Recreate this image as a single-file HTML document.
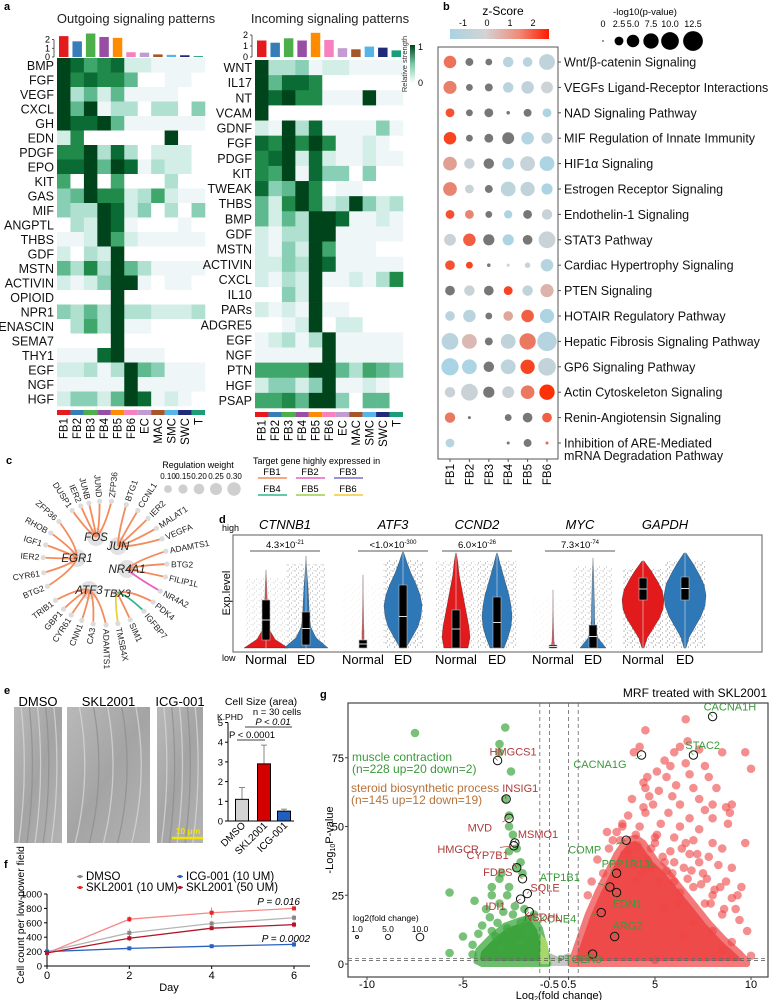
<!DOCTYPE html>
<html><head><meta charset="utf-8">
<style>
html,body{margin:0;padding:0;background:#fff;}
svg{display:block;font-family:"Liberation Sans",Arial,sans-serif;}
</style></head>
<body>
<svg id="fig" width="769" height="1000" viewBox="0 0 769 1000" xmlns="http://www.w3.org/2000/svg">
<defs>
<linearGradient id="relgrad" x1="0" y1="1" x2="0" y2="0"><stop offset="0" stop-color="#ffffff"/><stop offset="0.5" stop-color="#7cc9a8"/><stop offset="1" stop-color="#00441b"/></linearGradient>
<linearGradient id="zgrad" x1="0" y1="0" x2="1" y2="0"><stop offset="0" stop-color="#a9d3e3"/><stop offset="0.36" stop-color="#d3d3d3"/><stop offset="0.7" stop-color="#f08a78"/><stop offset="1" stop-color="#ff1a00"/></linearGradient>
<pattern id="dots" width="7" height="6" patternUnits="userSpaceOnUse"><circle cx="1" cy="1" r="0.55" fill="#444"/><circle cx="4.5" cy="3" r="0.5" fill="#555"/><circle cx="2.5" cy="5" r="0.45" fill="#333"/><circle cx="6" cy="0.5" r="0.4" fill="#666"/></pattern>
<linearGradient id="photo" x1="0" y1="0" x2="1" y2="1"><stop offset="0" stop-color="#b9b9b9"/><stop offset="0.5" stop-color="#a4a4a4"/><stop offset="1" stop-color="#b3b3b3"/></linearGradient>
</defs>
</svg>
<script>
// ---------- DATA ----------
const cellTypes=['FB1','FB2','FB3','FB4','FB5','FB6','EC','MAC','SMC','SWC','T'];
const cellColors=['#e41a1c','#377eb8','#4daf4a','#984ea3','#ff8c00','#f781bf','#c39bd3','#a65628','#56b4e9','#1f2a7a','#1b9e77'];
const outRows=['BMP','FGF','VEGF','CXCL','GH','EDN','PDGF','EPO','KIT','GAS','MIF','ANGPTL','THBS','GDF','MSTN','ACTIVIN','OPIOID','NPR1','TENASCIN','SEMA7','THY1','EGF','NGF','HGF'];
const outVals=['98678221111','97877500110','93525111100','95913303304','98895111111','27000000900','77938302220','88959813220','60906000300','45977236211','43398240304','03298100010','11296211111','20329000000','53739531111','21249910110','00009000000','43539332223','03639110000','00009000000','11189111000','22313954111','11111911111','24425981210'];
const outBars=[2.4,1.8,2.7,2.3,2.2,0.55,0.5,0.3,0.25,0.2,0.1];
const inRows=['WNT','IL17','NT','VCAM','GDNF','FGF','PDGF','KIT','TWEAK','THBS','BMP','GDF','MSTN','ACTIVIN','CXCL','IL10','PARs','ADGRE5','EGF','NGF','PTN','HGF','PSAP'];
const inVals=['93341221111','95887000000','98977111911','90000000000','21938111141','87979711210','78928211211','76918440400','84597011000','52797239423','52539981121','21339911111','21429611100','22439811111','21329112137','00429000000','21219110000','00129022000','12313911111','11111911111','66669953654','24424911210','66759940550'];
const inBars=[1.5,1.3,1.7,1.5,2.2,1.55,0.8,0.7,0.95,0.85,0.6];

const pathways=['Wnt/β-catenin Signaling','VEGFs Ligand-Receptor Interactions','NAD Signaling Pathway','MIF Regulation of Innate Immunity','HIF1α Signaling','Estrogen Receptor Signaling','Endothelin-1 Signaling','STAT3 Pathway','Cardiac Hypertrophy Signaling','PTEN Signaling','HOTAIR Regulatory Pathway','Hepatic Fibrosis Signaling Pathway','GP6 Signaling Pathway','Actin Cytoskeleton Signaling','Renin-Angiotensin Signaling','Inhibition of ARE-Mediated'];
const dotCols=['FB1','FB2','FB3','FB4','FB5','FB6'];
const zScores=[[1.5,null,null,-0.8,-0.8,-0.6],[1.3,null,null,-0.8,-0.6,-0.2],[2,null,null,null,null,-1.2],[2.2,null,null,null,-1,-0.6],[0.8,-0.3,null,-0.9,-0.4,-1.2],[1.2,-0.3,null,-0.7,-0.6,-1.2],[2,1.2,null,-1.2,null,-0.3],[-0.3,1.8,null,-1.2,null,-0.3],[2,2.2,null,-0.2,-0.3,-0.9],[null,-0.3,null,2.2,-0.6,0.5],[-0.8,-0.8,null,0.7,1.8,-1.2],[-0.8,0.4,null,-0.6,1.4,-0.9],[-1.3,-1.2,null,-0.7,2.2,-0.5],[-0.3,-0.3,null,-0.3,1.4,2.5],[1.4,null,null,null,null,1.8],[-0.8,null,null,null,null,1.6]];
const logP=[[5,2,1.5,3.5,3,8],[5.5,1.5,2,3.5,5,4.5],[2.5,1.5,2.5,0.4,2,2.5],[5,1.5,2.5,4.5,5,4],[6,3.5,3.5,4.5,7,7],[6,2.5,2,7,6.5,4],[2.5,2.5,1.5,2.2,2.5,3.5],[4.5,5,4,4,3,9],[3,1.5,0.4,0.3,1,5],[3,3.5,3,2.5,3.5,5.5],[3,5,1.5,3,5,6.5],[9,7,2,7,8.5,12],[9.5,7,3.5,7,6.5,10],[3.5,9,4,4.5,6,7.5],[3.5,0.3,0,1.5,3,3],[2.5,0,0,0.3,2,0.3]];
const pLegend=[0,2.5,5,7.5,10,12.5];

const weightLegend=[0.10,0.15,0.20,0.25,0.30];

const fDays=[0,2,4,6];
const fDMSO=[200,460,590,670];
const fDMSOerr=[20,60,40,40];
const fSKL10=[180,650,740,800];
const fSKL10err=[15,40,70,30];
const fICG=[200,245,275,300];
const fICGerr=[15,25,20,40];
const fSKL50=[180,385,525,575];
const fSKL50err=[15,40,25,40];
const fYTicks=[0,200,400,600,800,1000];

const eGroups=['DMSO','SKL2001','ICG-001'];
const eVals=[1.1,2.9,0.5];
const eErr=[0.6,0.95,0.1];
const eColors=['#d3d3d3','#d40000','#1f5fbf'];

const volRedFC=[4.5,6.6,3.9,4.2,6.7,6.3,7.3,6.0,5.5,8.5,9.7,10.0,5.8,6.6,7.6,5.1,4.6,4.4,5.6,6.8,7.8,4.5,5.2,6.1,7.0,8.2,4.7,5.9,7.3,8.0,3.8,4.9,6.3,7.6,8.7,9.0,3.6,4.5,5.7,6.8,8.0,8.9,3.3,4.2,5.3,6.3,7.3,8.8,3.0,4.0,5.0,6.0,7.0,8.0,8.5,9.7,3.2,4.8,5.8,6.8,7.8,8.3,9.0,5.5,6.5,7.5,8.7,6.0,7.0,8.0,9.5,7.6,8.5,9.2,9.8,9.0,8.0,2.6,2.0,2.3,1.7,1.5,2.5,3.7,4.5,5.2,4.0,6.2,5.5,7.0,6.5,8.5,10,5,3.4,4.1,5.0,6.4,7.2,3.9,4.6,5.4,6.0,6.9,7.7,8.4,9.3,4.3,5.6,6.7,7.4,8.1,9.0,3.1,3.6,4.8,5.9,6.3,7.9,9.4,2.8,3.3,4.4,5.1,6.6,7.3,8.6];
const volRedP=[85,89,77,79,81,79,78,77,74,77,77,71,72,73,72,70,68,66,68,69,68,64,63,65,64,64,61,61,60,58,60,58,58,56,57,58,54,55,55,53,53,55,51,50,51,50,49,51,48,47,46,46,45,44,42,44,45,42,41,40,39,36,35,37,35,33,30,30,28,25,28,22,18,20,12,8,12,42,38,33,30,25,48,38,35,30,30,22,20,15,10,5,3,1.5,40,43,44,42,40,36,38,39,37,34,31,28,25,33,34,31,29,27,24,35,41,35,33,26,22,16,45,50,57,47,44,37,20];
const volGreenFC=[-7.5,-2.8,-3.1,-3.1,-2.5,-2.8,-2.6,-2.6,-2.4,-2.6,-2.2,-2.0,-2.2,-1.9,-3.0,-2.6,-3.5,-3.1,-2.7,-3.1,-2.3,-3.5,-4.4,-5.7,-3.8,-4.0,-5.0,-3.5,-4.5,-5.7,-4.5,-3.3,-2.7,-2.0,-1.6,-1.3,-1.7,-3.0,-2.0,-3.6,-2.9,-2.4,-1.8,-4.2,-3.2];
const volGreenP=[84,86,80,77,70,60,54,50,47,41,42,37,35,33,33,28,28,31,25,22,21,25,23,26,20,14,10,12,7,4,3.5,10,13,15,12,18,16,6,8,17,19,18,20,11,15];
const redDensFC=[0.6,0.8,1.1,1.5,2.0,2.5,3.0,3.5,4.0,4.4,5.0,5.6,6.3,7.0,7.8,8.6,9.4,9.8,9.8];
const redDensP=[0,4,10,18,26,33,40,45,46,44,38,34,28,22,15,9,4,1,0];
const greenDensFC=[-0.55,-0.7,-1.0,-1.4,-2.0,-2.8,-3.5,-4.2,-4.3,-4.0];
const greenDensP=[0,5,13,17,16,14,10,5,1,0];
const labGenes=['CACNA1H','STAC2','CACNA1G','COMP','PPP1R13L','ATP1B1','EDN1','KCNE4','ARG2','PTGER3','HMGCS1','INSIG1','MVD','MSMO1','HMGCR','CYP7B1','FDPS','SQLE','IDI1','NSDHL'];
const labFC=[8.0,7.0,4.3,3.5,3.0,2.65,3.0,2.2,2.9,1.75,-3.2,-2.75,-2.6,-2.3,-2.35,-2.2,-1.9,-1.65,-2.0,-1.55];
const labP=[90,76,76,45,33,28,26,18.7,10,3.6,74,60,53,44,43,35,31,25.6,23.6,19];
const labDX=[-9,-8,-15,-25,-15,-30,-4,-25,-2,-35,-8,-4,-17,3,-35,-8,-10,3,-15,-5];
const labDY=[-9,-9,10,10,-9,-9,12,7,-10,6,-8,-10,10,-8,4,-12,-6,-5,8,6];
const labAnchor=['start','start','end','end','start','end','start','end','start','start','start','start','end','start','end','end','end','start','end','start'];
const volXTicks=[-10,-5,-0.5,0.5,5,10];
const volYTicks=[0,25,50,75];

// ---------- HELPERS ----------
const NS='http://www.w3.org/2000/svg';
const svg=document.getElementById('fig');
function mk(tag,attrs,parent){const e=document.createElementNS(NS,tag);for(const k in attrs)e.setAttribute(k,attrs[k]);(parent||svg).appendChild(e);return e;}
function tx(x,y,s,attrs,parent){const e=mk('text',Object.assign({x:x,y:y},attrs||{}),parent);e.textContent=s;return e;}
function grp(name){const g=mk('g',{});return g;}
const heatColors=['#ffffff','#eef6f8','#d3eee6','#b0e0d0','#88cfb5','#5fb98f','#3fa66c','#208a4a','#0b6b34','#00441b'];

// panel labels
[['a',4,10],['b',443,10],['c',6,464],['d',219,523],['e',4,694],['f',4,868],['g',320,698]].forEach(p=>{
  const t=tx(p[1],p[2],p[0],{'font-size':11,'font-weight':'bold'});
  
  
});

// ---------- PANEL A ----------
function heatmap(name,title,titleX,rows,vals,bars,x0,y0,x1,y1,barScale,ticks){
  const g=grp(name);
  const cw=(x1-x0)/cellTypes.length, rh=(y1-y0)/rows.length;
  const t=tx(titleX,23,title,{'font-size':13,'text-anchor':'middle',fill:'#222'},g);
  
  
  mk('line',{x1:x0-3,y1:57,x2:x0-3,y2:57-ticks[ticks.length-1]*barScale,stroke:'#333','stroke-width':0.8},g);
  ticks.forEach(v=>{const y=57-v*barScale;mk('line',{x1:x0-5,y1:y,x2:x0-3,y2:y,stroke:'#333','stroke-width':0.8},g);tx(x0-7,y+3,String(v),{'font-size':9,'text-anchor':'end'},g);});
  bars.forEach((v,i)=>{
    const b=mk('rect',{x:x0+i*cw+2,y:57-v*barScale,width:cw-4,height:v*barScale,fill:cellColors[i]},g);
    
    
  });
  rows.forEach((r,ri)=>{
    const l=tx(x0-3,y0+ri*rh+rh/2+4.5,r,{'font-size':12.5,'text-anchor':'end',fill:'#111'},g);
    
    
    for(let ci=0;ci<cellTypes.length;ci++){
      const v=+vals[ri][ci];
      const c=mk('rect',{x:x0+ci*cw,y:y0+ri*rh,width:cw+0.3,height:rh+0.3,fill:heatColors[v]},g);
      
      
    }
  });
  cellTypes.forEach((c,i)=>{
    mk('rect',{x:x0+i*cw,y:y1+4,width:cw,height:5,fill:cellColors[i]},g);
    const l=tx(0,0,c,{'font-size':11.5,'text-anchor':'end',transform:'translate('+(x0+i*cw+cw/2+4)+','+(y1+12)+') rotate(-90)'},g);
    
    
  });
}
heatmap('outgoing-heatmap','Outgoing signaling patterns',136,outRows,outVals,outBars,57,58,205,406,8.7,[0,1,2]);
heatmap('incoming-heatmap','Incoming signaling patterns',330,inRows,inVals,inBars,255,60,403,408,11,[0,1,2]);
(function(){
  const g=grp('relative-strength-legend');
  mk('rect',{x:410,y:45,width:5,height:38,fill:'url(#relgrad)'},g);
  tx(418,50,'1',{'font-size':9},g);tx(418,86,'0',{'font-size':9},g);
  tx(0,0,'Relative strength',{'font-size':7.5,'text-anchor':'middle',transform:'translate(407,64) rotate(-90)',fill:'#333'},g);
})();

// ---------- PANEL B ----------
(function(){
  const g=grp('pathway-dotplot');
  const colX=c=>450+c*19.4, rowY=r=>62+r*25.4;
  const rad=p=>p<=0?0:Math.max(0.7,2.8*Math.sqrt(p));
  function zcol(z){
    if(z===null)return '#777777';
    function mix(a,b,t){t=Math.max(0,Math.min(1,t));const pa=[1,3,5].map(i=>parseInt(a.substr(i,2),16)),pb=[1,3,5].map(i=>parseInt(b.substr(i,2),16));return 'rgb('+pa.map((v,i)=>Math.round(v+(pb[i]-v)*t)).join(',')+')';}
    return z<0?mix('#d3d3d3','#a6d4e6',-z/1.4):mix('#d3d3d3','#ff2a00',z/2.6);
  }
  tx(503,15,'z-Score',{'font-size':12,'text-anchor':'middle'},g);
  mk('rect',{x:450,y:29,width:99,height:10,fill:'url(#zgrad)'},g);
  [['-1',463],['0',487],['1',510],['2',533]].forEach(t=>tx(t[1],26,t[0],{'font-size':9,'text-anchor':'middle'},g));
  tx(645,15,'-log10(p-value)',{'font-size':9.5,'text-anchor':'middle'},g);
  const lx=[603,619,633,651,670,693];
  pLegend.forEach((p,i)=>{tx(lx[i],27,p===0?'0':p.toFixed(1),{'font-size':9,'text-anchor':'middle'},g);mk('circle',{cx:lx[i],cy:41,r:rad(p)||0.7,fill:'#000'},g);});
  mk('path',{d:'M438,47 L558,47 L558,459 L438,459 Z',fill:'none',stroke:'#555','stroke-width':1},g);
  pathways.forEach((p,r)=>{
    const y=rowY(r);
    mk('line',{x1:558,y1:y,x2:561,y2:y,stroke:'#555'},g);
    const l=tx(564,y+4.5,p,{'font-size':12.5,fill:'#111'},g);
    
    
    dotCols.forEach((c,ci)=>{
      const pv=logP[r][ci]; if(!pv)return;
      const d=mk('circle',{cx:colX(ci),cy:y,r:rad(pv),fill:zcol(zScores[r][ci])},g);
      
      
    });
  });
  tx(564,rowY(15)+17,'mRNA Degradation Pathway',{'font-size':12.5,fill:'#111'},g);
  dotCols.forEach((c,ci)=>{
    mk('line',{x1:colX(ci),y1:459,x2:colX(ci),y2:462,stroke:'#555'},g);
    tx(0,0,c,{'font-size':11.5,'text-anchor':'end',transform:'translate('+(colX(ci)+4)+',464) rotate(-90)'},g);
  });
})();

// ---------- PANEL C ----------
(function(){
  const g=grp('regulatory-network');
  const cx=105,cy=563,R=62;
  const hubs={FOS:[96,537],JUN:[118,546],EGR1:[77,558],NR4A1:[127,569],ATF3:[89,590],TBX3:[117,593]};
  const leaves=[['DUSP1',-122,'FOS'],['IER2',-113,'FOS'],['JUNB',-105,'FOS'],['JUND',-95,'FOS'],['ZFP36',-84,'FOS'],['BTG1',-70,'JUN'],['CCNL1',-58,'JUN'],['IER2',-46,'JUN'],['MALAT1',-34,'JUN'],['VEGFA',-23,'JUN'],['ADAMTS1',-11,'NR4A1'],['BTG2',1,'NR4A1'],['FILIP1L',13,'NR4A1'],['NR4A2',27,'NR4A1','#e85fc0'],['PDK4',39,'TBX3'],['IGFBP7',51,'TBX3','#2eb88a'],['SIM1',66,'TBX3'],['TMSB4X',78,'TBX3','#e8d23a'],['ADAMTS1',89,'ATF3'],['CA3',101,'ATF3'],['CNN1',112,'ATF3'],['CYR61',123,'ATF3'],['GBP1',132,'ATF3'],['TRIB1',143,'ATF3'],['BTG2',158,'EGR1'],['CYR61',171,'EGR1'],['IER2',-175,'EGR1'],['IGF1',-163,'EGR1'],['RHOB',-151,'EGR1'],['ZFP36',-138,'EGR1']];
  Object.keys(hubs).forEach(h=>mk('circle',{cx:hubs[h][0],cy:hubs[h][1],r:h==='TBX3'?4:9,fill:'#e2e2e2'},g));
  leaves.forEach(L=>{
    const a=L[1]*Math.PI/180, lx=cx+R*Math.cos(a), ly=cy+R*Math.sin(a), h=hubs[L[2]];
    const mx=(lx+h[0])/2+(cx-(lx+h[0])/2)*0.25, my=(ly+h[1])/2+(cy-(ly+h[1])/2)*0.25;
    const e=mk('path',{d:'M'+h[0]+','+h[1]+' Q'+mx+','+my+' '+lx+','+ly,fill:'none',stroke:L[3]||'#f58a5c','stroke-width':1.8},g);
    
    
    mk('circle',{cx:lx,cy:ly,r:2.6,fill:'#dcdcdc'},g);
    const deg=L[1], right=Math.abs(deg)<=90;
    const tx0=cx+(R+4)*Math.cos(a), ty0=cy+(R+4)*Math.sin(a);
    const rot=right?deg:deg+180;
    const t=tx(0,0,L[0],{'font-size':8.5,'text-anchor':right?'start':'end',fill:'#222',transform:'translate('+tx0.toFixed(1)+','+ty0.toFixed(1)+') rotate('+rot+') translate(0,3)'},g);
    
    
  });
  Object.keys(hubs).forEach(h=>tx(hubs[h][0],hubs[h][1]+4,h,{'font-size':h==='TBX3'?11:11.5,'font-style':'italic','text-anchor':'middle',fill:'#222'},g));
  tx(198,468,'Regulation weight',{'font-size':9,'text-anchor':'middle'},g);
  const wx=[168,183,199,216,234];
  weightLegend.forEach((w,i)=>{tx(wx[i],479,w.toFixed(2),{'font-size':8,'text-anchor':'middle'},g);mk('circle',{cx:wx[i],cy:489,r:2.5+w*14,fill:'#cfcfcf'},g);});
  tx(253,464,'Target gene highly expressed in',{'font-size':9},g);
  const lg=[['FB1','#f58a5c'],['FB2','#e85fc0'],['FB3','#7a6fd0'],['FB4','#2eb88a'],['FB5','#9ad04a'],['FB6','#f2c93a']];
  lg.forEach((l,i)=>{const x=258+(i%3)*38, y=i<3?475:492;tx(x+14,y,l[0],{'font-size':9.5,'text-anchor':'middle'},g);mk('line',{x1:x,y1:y+3,x2:x+29,y2:y+3,stroke:l[1],'stroke-width':1.5},g);});
})();

// ---------- PANEL D ----------
(function(){
  const g=grp('violin-panel');
  mk('rect',{x:233,y:535,width:529,height:117,fill:'none',stroke:'#777','stroke-width':1.2},g);
  tx(222,531,'high',{'font-size':9},g);tx(222,661,'low',{'font-size':9},g);
  tx(0,0,'Exp.level',{'font-size':11,'text-anchor':'middle',transform:'translate(230,593) rotate(-90)'},g);
  const genes=[['CTNNB1',285,'4.3×10','-21',266,306],['ATF3',393,'<1.0×10','-300',363,403],['CCND2',477,'6.0×10','-26',456,497],['MYC',580,'7.3×10','-74',553,593],['GAPDH',665,'',null,643,685]];
  const shapes={
    CTNNB1:[[570,[22,9,4,3,2,1.5,1,0.8,0.5,0.2],[600,640],0.4],[556,[22,10,5,3.5,3,2.5,2,1.2,0.6,0.2],[612,645],0.7]],
    ATF3:[[575,[1.5,1,1,0.7,0.6,0.5,0.4,0.3,0.3,0.2],[640,648],0.1],[552,[3,9,15,18,19,17,13,8,4,0.5],[585,648],0.9]],
    CCND2:[[553,[12,14,13,11,9,7,5,3,2,0.4],[610,648],0.6],[553,[7,11,14,15,14,12,9,6,3,0.4],[597,648],0.8]],
    MYC:[[590,[2,1,0.8,0.6,0.5,0.4,0.3,0.3,0.2,0.2],[645,648],0.1],[558,[13,5,2,1.5,1.5,1.2,1,0.8,0.5,0.2],[625,648],0.6]],
    GAPDH:[[561,[1,4,10,16,20,21,19,14,8,1],[578,600],0.9],[553,[1,4,10,16,20,21,19,14,8,1],[577,600],0.9]]
  };
  genes.forEach(G=>{
    tx(G[1],529,G[0],{'font-size':13,'font-style':'italic','text-anchor':'middle'},g);
    if(G[2]){const t=tx(G[1],548,G[2],{'font-size':9.5,'text-anchor':'middle'},g);const s=mk('tspan',{'font-size':6,dy:-4},t);s.textContent=G[3];mk('line',{x1:G[1]-35,y1:551,x2:G[1]+35,y2:551,stroke:'#222','stroke-width':0.8},g);}
    [G[4],G[5]].forEach((vx,k)=>{
      const sh=shapes[G[0]][k], top=sh[0], w=sh[1], bot=648, n=w.length;
      mk('rect',{x:vx-20,y:top+8,width:40,height:bot-top-8,fill:'url(#dots)',opacity:sh[3]},g);
      let L='',Rr='';
      for(let i=0;i<n;i++){const y=bot-(bot-top)*i/(n-1);L+=(i?' L':'M')+(vx-w[i])+','+y;Rr=' L'+(vx+w[i])+','+y+Rr;}
      const v=mk('path',{d:L+Rr+' Z',fill:k===0?'#e31a1c':'#2f78b8',stroke:'#222','stroke-width':0.3},g);
      
      
      mk('line',{x1:vx,y1:top,x2:vx,y2:bot,stroke:'#ddd','stroke-width':0.6},g);
      mk('rect',{x:vx-4,y:sh[2][0],width:8,height:sh[2][1]-sh[2][0],fill:'#000',stroke:'#bbb','stroke-width':0.6},g);
      mk('line',{x1:vx-4,y1:(sh[2][0]+sh[2][1])/2,x2:vx+4,y2:(sh[2][0]+sh[2][1])/2,stroke:'#ddd','stroke-width':1},g);
      tx(vx,664,k?'ED':'Normal',{'font-size':13,'text-anchor':'middle'},g);
    });
  });
})();

// ---------- PANEL E ----------
(function(){
  const g=grp('cell-images');
  [['DMSO',14,62],['SKL2001',67,150],['ICG-001',157,203]].forEach((p,i)=>{
    tx((p[1]+p[2])/2,706,p[0],{'font-size':13,'text-anchor':'middle'},g);
    const r=mk('rect',{x:p[1],y:707,width:p[2]-p[1],height:136,fill:'url(#photo)'},g);
    
    
    const w=p[2]-p[1];
    for(let k=0;k<5;k++){
      const x=p[1]+w*(0.15+k*0.17);
      mk('path',{d:'M'+x+',707 Q'+(x+w*0.15)+',775 '+(x-w*0.05)+',843',fill:'none',stroke:k%2?'#8f8f8f':'#d6d6d6','stroke-width':1.3,opacity:0.8},g);
    }
  });
  mk('line',{x1:172,y1:838,x2:203,y2:838,stroke:'#f2e400','stroke-width':2.5},g);
  tx(188,834,'10 μm',{'font-size':8.5,'text-anchor':'middle',fill:'#f2e400','font-weight':'bold'},g);
  const b=grp('cell-size-chart');
  const yv=v=>821-v*19.7, bx=[242,264,284];
  tx(261,705,'Cell Size (area)',{'font-size':10.5,'text-anchor':'middle'},b);
  tx(277,715,'n = 30 cells',{'font-size':9.5,'text-anchor':'middle'},b);
  tx(273,725,'P < 0.01',{'font-size':9.5,'text-anchor':'middle','font-style':'italic'},b);
  mk('line',{x1:245,y1:727,x2:292,y2:727,stroke:'#000','stroke-width':0.8},b);
  tx(252,738,'P < 0.0001',{'font-size':9.5,'text-anchor':'middle'},b);
  mk('line',{x1:237,y1:740,x2:265,y2:740,stroke:'#000','stroke-width':0.8},b);
  tx(217,720,'K.PHD',{'font-size':8.5},b);
  mk('line',{x1:228,y1:yv(5),x2:228,y2:yv(0),stroke:'#000','stroke-width':1},b);
  mk('line',{x1:228,y1:yv(0),x2:294,y2:yv(0),stroke:'#000','stroke-width':1},b);
  [0,1,2,3,4,5].forEach(v=>{mk('line',{x1:225,y1:yv(v),x2:228,y2:yv(v),stroke:'#000'},b);tx(223,yv(v)+3.5,String(v),{'font-size':9.5,'text-anchor':'end'},b);});
  eGroups.forEach((n,i)=>{
    mk('line',{x1:bx[i],y1:yv(eVals[i]+eErr[i]),x2:bx[i],y2:yv(eVals[i]),stroke:'#888'},b);
    mk('line',{x1:bx[i]-3,y1:yv(eVals[i]+eErr[i]),x2:bx[i]+3,y2:yv(eVals[i]+eErr[i]),stroke:'#888'},b);
    const r=mk('rect',{x:bx[i]-6.5,y:yv(eVals[i]),width:13,height:eVals[i]*19.7,fill:eColors[i],stroke:'#000','stroke-width':1},b);
    
    
    tx(0,0,n,{'font-size':10,'text-anchor':'end',transform:'translate('+(bx[i]+4)+',826) rotate(-45)'},b);
  });
})();

// ---------- PANEL F ----------
(function(){
  const g=grp('cell-count-chart');
  const xs=d=>47+d*(247/6), ys=v=>966-v*0.072;
  mk('line',{x1:47,y1:ys(0),x2:310,y2:ys(0),stroke:'#000'},g);
  mk('line',{x1:47,y1:ys(0),x2:47,y2:ys(1000),stroke:'#000'},g);
  fYTicks.forEach(v=>{mk('line',{x1:44,y1:ys(v),x2:47,y2:ys(v),stroke:'#000'},g);tx(42,ys(v)+3.5,String(v),{'font-size':9.5,'text-anchor':'end'},g);});
  fDays.forEach(d=>{mk('line',{x1:xs(d),y1:ys(0),x2:xs(d),y2:ys(0)+3,stroke:'#000'},g);tx(xs(d),979,String(d),{'font-size':11,'text-anchor':'middle'},g);});
  tx(169,991,'Day',{'font-size':11,'text-anchor':'middle'},g);
  tx(0,0,'Cell count per low-power field',{'font-size':10.5,'text-anchor':'middle',transform:'translate(24,915) rotate(-90)'},g);
  const series=[['DMSO',fDMSO,fDMSOerr,'#b5b5b5','#888'],['ICG-001 (10 UM)',fICG,fICGerr,'#2a62c0','#2a62c0'],['SKL2001 (10 UM)',fSKL10,fSKL10err,'#f48a8a','#ee2222'],['SKL2001 (50 UM)',fSKL50,fSKL50err,'#b3152a','#b3152a']];
  series.forEach((s,si)=>{
    let d='';
    fDays.forEach((day,i)=>{d+=(i?' L':'M')+xs(day)+','+ys(s[1][i]);});
    const p=mk('path',{d:d,fill:'none',stroke:s[3],'stroke-width':1.3},g);
    
    
    fDays.forEach((day,i)=>{
      const x=xs(day);
      mk('line',{x1:x,y1:ys(s[1][i]-s[2][i]),x2:x,y2:ys(s[1][i]+s[2][i]),stroke:s[4],'stroke-width':0.8,opacity:0.8},g);
      mk('rect',{x:x-2,y:ys(s[1][i])-2,width:4,height:4,fill:s[4]},g);
    });
    const order=[[85,880],[185,880],[85,891],[185,891]][si];
    mk('line',{x1:order[0]-8,y1:order[1]-3.5,x2:order[0]-2,y2:order[1]-3.5,stroke:s[4],'stroke-width':1.2},g);
    mk('rect',{x:order[0]-6.5,y:order[1]-5,width:3,height:3,fill:s[4]},g);
    tx(order[0]+1,order[1],s[0],{'font-size':11.5},g);
  });
  tx(300,905,'P = 0.016',{'font-size':10,'text-anchor':'end','font-style':'italic'},g);
  tx(310,942,'P = 0.0002',{'font-size':10,'text-anchor':'end','font-style':'italic'},g);
})();

// ---------- PANEL G ----------
(function(){
  const g=grp('volcano-plot');
  const X=fc=>559+fc*19.2, Y=p=>964-p*2.75;
  tx(767,697,'MRF treated with SKL2001',{'font-size':12,'text-anchor':'end'},g);
  mk('rect',{x:348,y:703,width:420,height:274,fill:'none',stroke:'#444','stroke-width':1.2},g);
  mk('path',{d:'M'+X(-1.3)+','+Y(0)+' L'+X(-0.5)+','+Y(4)+' L'+X(0)+','+Y(2.5)+' L'+X(0.5)+','+Y(4)+' L'+X(1.3)+','+Y(0)+' Z',fill:'#bdbdbd'},g);
  mk('rect',{x:X(-4),y:Y(1.3),width:X(5)-X(-4),height:Y(0)-Y(1.3)+2,fill:'#c8c8c8'},g);
  let d='';redDensFC.forEach((f,i)=>{d+=(i?' L':'M')+X(f)+','+Y(redDensP[i]);});
  const rd=mk('path',{d:d+' Z',fill:'#ef4a4a','stroke':'#f27a7a','stroke-width':6,'stroke-linejoin':'round'},g);
  
  
  d='';greenDensFC.forEach((f,i)=>{d+=(i?' L':'M')+X(f)+','+Y(greenDensP[i]);});
  const gd=mk('path',{d:d+' Z',fill:'#3da33d','stroke':'#6cbd6c','stroke-width':6,'stroke-linejoin':'round'},g);
  
  
  mk('path',{d:'M'+X(-0.5)+','+Y(0)+' L'+X(-0.6)+','+Y(8)+' L'+X(-0.95)+','+Y(11)+' L'+X(-1)+','+Y(0)+' Z',fill:'#a8d86a'},g);
  volRedFC.forEach((f,i)=>{
    const c=mk('circle',{cx:X(f),cy:Y(volRedP[i]),r:4.3,fill:'#ef4444','fill-opacity':0.6},g);
    
    
  });
  volGreenFC.forEach((f,i)=>{
    const c=mk('circle',{cx:X(f),cy:Y(volGreenP[i]),r:4.3,fill:'#3fa63f','fill-opacity':0.7},g);
    
    
  });
  [-1,-0.5,0.5,1].forEach(v=>mk('line',{x1:X(v),y1:703,x2:X(v),y2:977,stroke:'#666','stroke-dasharray':'4,3','stroke-width':0.8},g));
  [1.3,2].forEach(v=>mk('line',{x1:348,y1:Y(v),x2:768,y2:Y(v),stroke:'#666','stroke-dasharray':'4,3','stroke-width':0.8},g));
  labGenes.forEach((n,i)=>{
    const x=X(labFC[i]), y=Y(labP[i]), up=labFC[i]>0;
    const col=up?'#3a9a3a':'#b03a3a';
    mk('circle',{cx:x,cy:y,r:4.2,fill:'none',stroke:'#111','stroke-width':1},g);
    mk('line',{x1:x,y1:y,x2:x+labDX[i]*0.4,y2:y+labDY[i]*0.4,stroke:col,'stroke-width':0.7},g);
    const t=tx(x+labDX[i],y+labDY[i]+3,n,{'font-size':11,fill:col,'text-anchor':labAnchor[i]},g);
    
    
  });
  tx(352,761,'muscle contraction',{'font-size':12,fill:'#3a9a3a'},g);
  tx(352,773,'(n=228 up=20 down=2)',{'font-size':12,fill:'#3a9a3a'},g);
  tx(351,792,'steroid biosynthetic process',{'font-size':12,fill:'#b8733a'},g);
  tx(351,804,'(n=145 up=12 down=19)',{'font-size':12,fill:'#b8733a'},g);
  tx(353,921,'log2(fold change)',{'font-size':8.5},g);
  [[1,357,1.5],[5,388,2.5],[10,420,3.8]].forEach(s=>{tx(s[1],932,s[0].toFixed(1),{'font-size':8.5,'text-anchor':'middle'},g);mk('circle',{cx:s[1],cy:937,r:s[2],fill:'none',stroke:'#111'},g);});
  volXTicks.forEach(v=>{mk('line',{x1:X(v),y1:977,x2:X(v),y2:980,stroke:'#444'},g);tx(X(v),988,String(v),{'font-size':11,'text-anchor':'middle'},g);});
  volYTicks.forEach(v=>{mk('line',{x1:345,y1:Y(v),x2:348,y2:Y(v),stroke:'#444'},g);tx(344,Y(v)+4,String(v),{'font-size':11,'text-anchor':'end'},g);});
  const xt=tx(559,999,'Log',{'font-size':11,'text-anchor':'middle'},g);
  const s1=mk('tspan',{'font-size':7,dy:2},xt);s1.textContent='2';
  const s2=mk('tspan',{dy:-2},xt);s2.textContent='(fold change)';
  const yt=tx(0,0,'-Log',{'font-size':11,'text-anchor':'middle',transform:'translate(333,840) rotate(-90)'},g);
  const s3=mk('tspan',{'font-size':7,dy:2},yt);s3.textContent='10';
  const s4=mk('tspan',{dy:-2},yt);s4.textContent='P-value';
})();
</script>
</body></html>
